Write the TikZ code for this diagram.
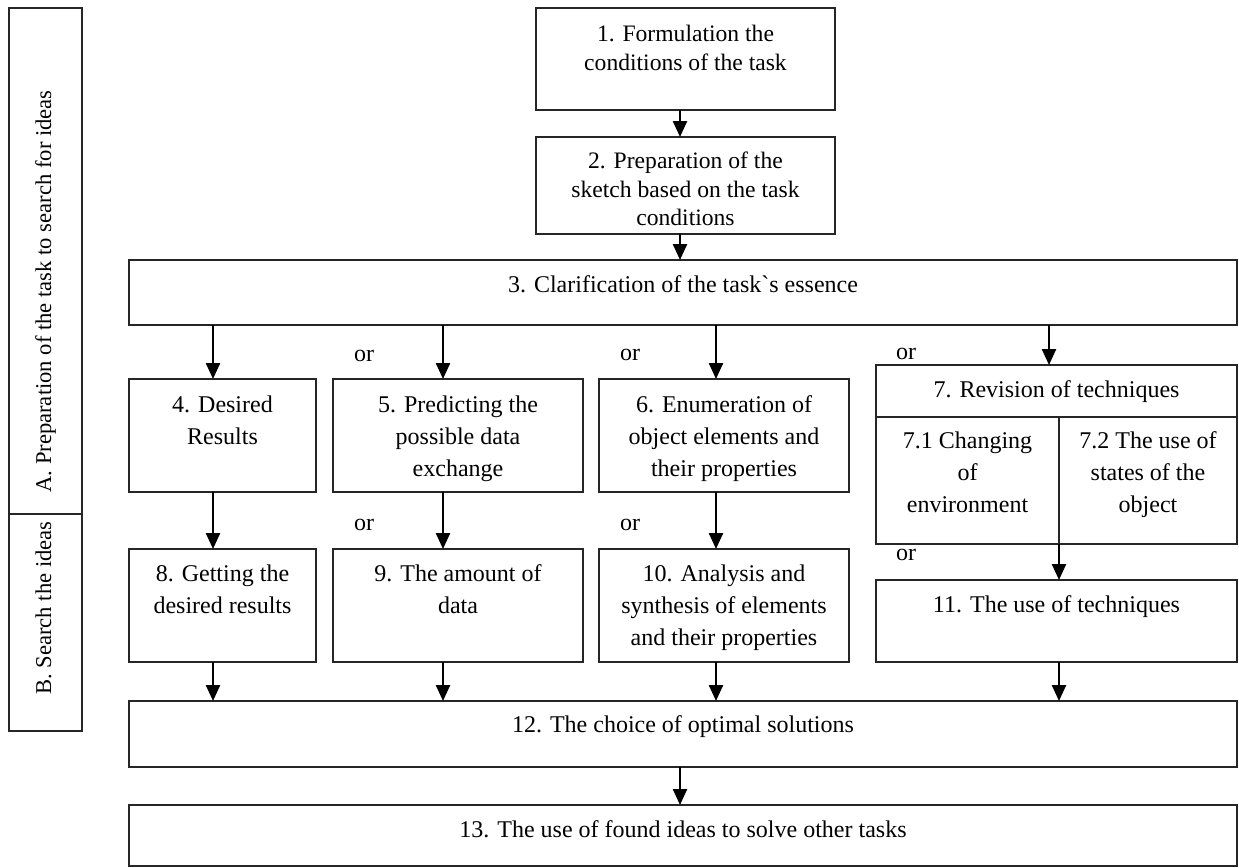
\documentclass[tikz,border=0pt]{standalone}
\usepackage{fontspec}
\setmainfont{Liberation Serif}
\usetikzlibrary{arrows.meta,fit}
\tikzset{
  frame/.style={draw=black!85, line width=0.6pt, inner sep=0pt, outer sep=0pt},
  txt/.style={font=\fontsize{12}{16}\selectfont, align=center, inner sep=0pt, anchor=north},
  txts/.style={font=\fontsize{11.8}{14.2}\selectfont, align=center, inner sep=0pt, anchor=north},
  orlab/.style={font=\fontsize{12}{16}\selectfont, inner sep=0pt, anchor=base},
  side/.style={font=\fontsize{11.3}{14}\selectfont, inner sep=0pt, rotate=90, anchor=base west},
  arr/.style={line width=1.2pt, -{Triangle[width=7pt,length=8pt]}},
}
\begin{document}
\begin{tikzpicture}[x=0.5pt,y=-0.5pt]
\useasboundingbox (0,0) rectangle (1239,868);
% column coordinates
\coordinate (c12) at (680,0);
\coordinate (c4) at (213,0);
\coordinate (c5) at (443,0);
\coordinate (c6) at (716,0);
\coordinate (c7) at (1049,0);
\coordinate (c11) at (1059,0);
% side boxes
\node[frame, fit={(9,8) (82,514)}] (sa) {};
\node[frame, fit={(9,514) (82,731)}] (sb) {};
\node[side] (ta) at (51,493) {A. Preparation of the task to search for ideas};
\node[side] (tb) at (51,695) {B. Search the ideas};
% boxes
\node[frame, fit={(536,8) (835,110)}] (b1) {};
\node[frame, fit={(536,137) (835,234)}] (b2) {};
\node[frame, fit={(129,260) (1237,325)}] (b3) {};
\node[frame, fit={(129,379) (316,492)}] (b4) {};
\node[frame, fit={(333,379) (583,492)}] (b5) {};
\node[frame, fit={(599,379) (849,492)}] (b6) {};
\node[frame, fit={(876,365) (1237,417)}] (b7) {};
\node[frame, fit={(876,417) (1059,544)}] (b71) {};
\node[frame, fit={(1059,417) (1237,544)}] (b72) {};
\node[frame, fit={(129,549) (316,662)}] (b8) {};
\node[frame, fit={(333,549) (583,662)}] (b9) {};
\node[frame, fit={(599,549) (849,662)}] (b10) {};
\node[frame, fit={(876,580) (1237,662)}] (b11) {};
\node[frame, fit={(129,701) (1237,767)}] (b12) {};
\node[frame, fit={(129,805) (1237,866)}] (b13) {};
% texts
\node[txts] (t1) at (685.5,21.5) {\strut 1. Formulation the\\conditions of the task};
\node[txts] (t2) at (685.5,148.5) {\strut 2. Preparation of the\\sketch based on the task\\conditions};
\node[txt] (t3) at (683,269.6) {\strut 3. Clarification of the task\textasciigrave s essence};
\node[txt] (t4) at (222.5,389.6) {\strut 4. Desired\\Results};
\node[txt] (t5) at (458,389.6) {\strut 5. Predicting the\\possible data\\exchange};
\node[txt] (t6) at (724,389.6) {\strut 6. Enumeration of\\object elements and\\their properties};
\node[txt] (t7) at (1056.5,374.6) {\strut 7. Revision of techniques};
\node[txt] (t71) at (967.5,425.6) {\strut 7.1 Changing\\of\\environment};
\node[txt] (t72) at (1148,425.6) {\strut 7.2 The use of\\states of the\\object};
\node[txt] (t8) at (222.5,558.6) {\strut 8. Getting the\\desired results};
\node[txt] (t9) at (458,558.6) {\strut 9. The amount of\\data};
\node[txt] (t10) at (724,558.6) {\strut 10. Analysis and\\synthesis of elements\\and their properties};
\node[txt] (t11) at (1056.5,589.6) {\strut 11. The use of techniques};
\node[txt] (t12) at (683,709.6) {\strut 12. The choice of optimal solutions};
\node[txt] (t13) at (683,814.6) {\strut 13. The use of found ideas to solve other tasks};
% or labels
\node[orlab] (o1) at (364,361) {or};
\node[orlab] (o2) at (364,530) {or};
\node[orlab] (o3) at (630,360) {or};
\node[orlab] (o4) at (630,530) {or};
\node[orlab] (o5) at (906,359) {or};
\node[orlab] (o6) at (906,560) {or};
% arrows
\draw[arr] (b1.south -| c12) -- (b2.north -| c12);
\draw[arr] (b2.south -| c12) -- (b3.north -| c12);
\draw[arr] (b3.south -| c4) -- (b4.north -| c4);
\draw[arr] (b3.south -| c5) -- (b5.north -| c5);
\draw[arr] (b3.south -| c6) -- (b6.north -| c6);
\draw[arr] (b3.south -| c7) -- (b7.north -| c7);
\draw[arr] (b4.south -| c4) -- (b8.north -| c4);
\draw[arr] (b5.south -| c5) -- (b9.north -| c5);
\draw[arr] (b6.south -| c6) -- (b10.north -| c6);
\draw[arr] (b72.south west) -- (b11.north -| c11);
\draw[arr] (b8.south -| c4) -- (b12.north -| c4);
\draw[arr] (b9.south -| c5) -- (b12.north -| c5);
\draw[arr] (b10.south -| c6) -- (b12.north -| c6);
\draw[arr] (b11.south -| c11) -- (b12.north -| c11);
\draw[arr] (b12.south -| c12) -- (b13.north -| c12);
\end{tikzpicture}
\end{document}
